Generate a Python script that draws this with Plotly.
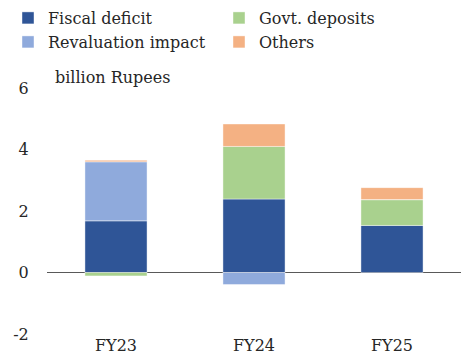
import plotly.graph_objects as go

categories = ["FY23", "FY24", "FY25"]
fiscal_deficit = [1.68, 2.39, 1.53]
govt_deposits = [-0.11, 1.71, 0.84]
revaluation_impact = [1.92, -0.39, 0.0]
others = [0.05, 0.73, 0.39]

series = [
    ("Fiscal deficit", fiscal_deficit, "#2F5597", "legend", 8, 18),
    ("Govt. deposits", govt_deposits, "#A9D18E", "legend2", 219, 18),
    ("Revaluation impact", revaluation_impact, "#8FAADC", "legend3", 8, 42),
    ("Others", others, "#F4B183", "legend4", 219, 42),
]

FONT = "DejaVu Serif"
TXT = "#262626"

fig = go.Figure()
legends = {}
for name, vals, col, lg, lx, ly in series:
    fig.add_trace(go.Bar(
        x=categories, y=vals, name=name, legend=lg,
        marker=dict(color=col, line=dict(color="rgba(255,255,255,0.6)", width=0.7)),
        width=0.45,
    ))
    legends[lg] = dict(
        xref="container", yref="container",
        x=lx / 461, y=1 - ly / 359, xanchor="left", yanchor="middle",
        font=dict(family=FONT, size=16, color=TXT),
        itemwidth=30, bgcolor="rgba(0,0,0,0)",
    )

fig.update_layout(
    width=461, height=359,
    margin=dict(l=47, r=0, t=88, b=25, autoexpand=False),
    barmode="relative",
    plot_bgcolor="white", paper_bgcolor="white",
    font=dict(family=FONT, size=16, color=TXT),
    showlegend=True,
    xaxis=dict(
        showline=False, showgrid=False, ticks="",
        tickfont=dict(family=FONT, size=16, color=TXT),
        range=[-0.5, 2.5],
    ),
    yaxis=dict(
        range=[-2, 6], tickvals=[-2, 0, 2, 4, 6], ticktext=["-2", "0", "2", "4", "6"],
        showgrid=False, showline=False,
        zeroline=True, zerolinecolor="#595959", zerolinewidth=1.3,
        ticks="outside", ticklen=14, tickcolor="rgba(0,0,0,0)",
        tickfont=dict(family=FONT, size=16, color=TXT),
    ),
    annotations=[dict(
        text="billion Rupees", xref="paper", yref="paper",
        x=0.014, y=1 + (88 - 77) / 246, xanchor="left", yanchor="middle", showarrow=False,
        font=dict(family=FONT, size=16, color=TXT),
    )],
    **legends,
)

fig.write_html("out.html")
